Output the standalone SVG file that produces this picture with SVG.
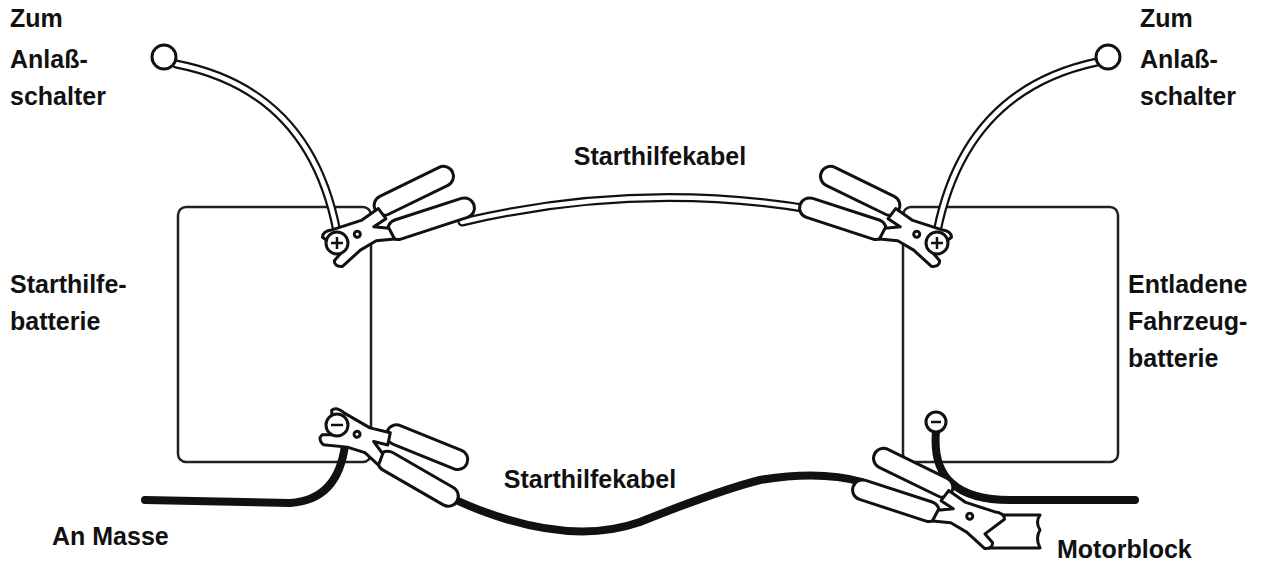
<svg xmlns="http://www.w3.org/2000/svg" width="1278" height="573" viewBox="0 0 1278 573">
<style>
.t{font-family:"Liberation Sans",Arial,sans-serif;font-weight:bold;font-size:25px;fill:#111}
.bat{fill:#fff;stroke:#222;stroke-width:2.5}
.o{fill:#fff;stroke:#111;stroke-width:3;stroke-linejoin:round}
.co{fill:none;stroke:#111;stroke-width:9;stroke-linecap:round}
.ci{fill:none;stroke:#fff;stroke-width:4.5;stroke-linecap:round}
.blk{fill:none;stroke:#111;stroke-width:8;stroke-linecap:round}
</style>
<defs>
<g id="clamp">
<rect class="o" x="48" y="-30" width="86" height="20" rx="10" transform="rotate(-8 48 -10)"/>
<rect class="o" x="52" y="-4" width="90" height="20" rx="10"/>
<path class="o" d="M-12,-10 Q-10,-16 0,-14 L30,-14 L50,-20 L54,-8 L40,-4 L54,2 L56,14 L38,10 L20,14 L-2,24 Q-10,22 -8,16 L2,10 Z"/>
<circle class="o" cx="22" cy="-2" r="3" stroke-width="2"/>
</g>
</defs>
<g id="battery-left"><rect class="bat" x="178" y="207" width="193" height="255" rx="8"/></g>
<g id="battery-right"><rect class="bat" x="903" y="207" width="215" height="255" rx="8"/></g>
<g id="motorblock"><path class="o" d="M985,515 L1040,515 Q1035,522 1040,530 Q1035,538 1040,548 L985,548 Z" stroke-width="2.5"/></g>
<g id="connectors">
<path class="co" d="M176,64 Q310,90 337,232"/><path class="ci" d="M176,64 Q310,90 337,232"/>
<path class="co" d="M1097,62 Q965,90 937,232"/><path class="ci" d="M1097,62 Q965,90 937,232"/>
<path class="co" d="M462,222 Q640,180 815,210"/><path class="ci" d="M462,222 Q640,180 815,210"/>
<path class="blk" d="M445,495 Q560,550 640,522 Q720,490 760,480 Q820,470 862,482"/>
<path class="blk" d="M145,500 L290,503 Q338,500 345,445"/>
<path class="blk" d="M936,432 Q930,500 1010,500 L1135,500"/>
</g>
<g id="switch-left"><circle class="o" cx="164" cy="57" r="12" stroke-width="2.5"/></g>
<g id="switch-right"><circle class="o" cx="1108" cy="57" r="12" stroke-width="2.5"/></g>
<g id="clamp-top-left"><use href="#clamp" transform="translate(337,243) rotate(-18)"/><circle class="o" cx="337" cy="243" r="11" stroke-width="2.5"/><path d="M331,243h12M337,237v12" stroke="#111" stroke-width="2.5"/></g>
<g id="clamp-top-right"><use href="#clamp" transform="translate(937,243) scale(-1,1) rotate(-18)"/><circle class="o" cx="937" cy="243" r="11" stroke-width="2.5"/><path d="M931,243h12M937,237v12" stroke="#111" stroke-width="2.5"/></g>
<g id="clamp-bottom-left"><use href="#clamp" transform="translate(337,425) rotate(30)"/><circle class="o" cx="337" cy="425" r="11" stroke-width="2.5"/><path d="M331,425h12" stroke="#111" stroke-width="2.5"/></g>
<g id="terminal-right-neg"><circle class="o" cx="936" cy="422" r="10" stroke-width="2.5"/><path d="M931,422h10" stroke="#111" stroke-width="2.5"/></g>
<g id="clamp-motor"><use href="#clamp" transform="translate(990,525) scale(-1,1) rotate(-18)"/></g>
<g id="labels">
<text class="t" x="10" y="27">Zum</text><text class="t" x="10" y="68">Anlaß-</text><text class="t" x="10" y="105">schalter</text>
<text class="t" x="1140" y="27">Zum</text><text class="t" x="1140" y="68">Anlaß-</text><text class="t" x="1140" y="105">schalter</text>
<text class="t" x="660" y="165" text-anchor="middle">Starthilfekabel</text>
<text class="t" x="590" y="488" text-anchor="middle">Starthilfekabel</text>
<text class="t" x="10" y="293">Starthilfe-</text><text class="t" x="10" y="330">batterie</text>
<text class="t" x="1128" y="293">Entladene</text><text class="t" x="1128" y="330">Fahrzeug-</text><text class="t" x="1128" y="367">batterie</text>
<text class="t" x="52" y="545">An Masse</text>
<text class="t" x="1057" y="558">Motorblock</text>
</g>
</svg>
